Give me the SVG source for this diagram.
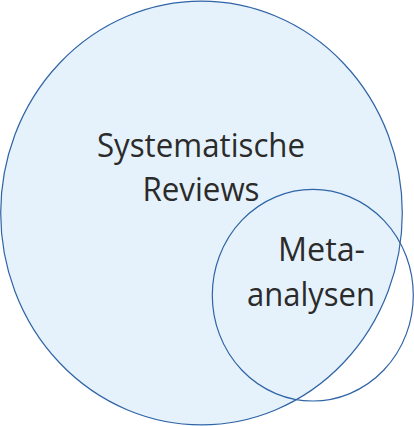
<svg xmlns="http://www.w3.org/2000/svg" width="414" height="426" viewBox="0 0 414 426">
<style>
.c{stroke:#2f64a6;stroke-width:1.2}
.t{font-family:"Open Sans","Noto Sans",sans-serif;font-size:33px;fill:#2b2b2b}
</style>
<rect width="414" height="426" fill="#ffffff"/>
<g id="systematische-reviews">
<ellipse class="c" cx="201.5" cy="213" rx="200.8" ry="211.8" fill="#e5f2fb"/>
<text class="t" x="201" y="156.5" text-anchor="middle" textLength="208" lengthAdjust="spacingAndGlyphs">Systematische</text>
<text class="t" x="201" y="201" text-anchor="middle" textLength="117" lengthAdjust="spacingAndGlyphs">Reviews</text>
</g>
<g id="metaanalysen">
<ellipse class="c" cx="312.8" cy="295.2" rx="100.5" ry="105.8" fill="none"/>
<text class="t" x="278" y="260.5" textLength="87" lengthAdjust="spacingAndGlyphs">Meta-</text>
<text class="t" x="247" y="306" textLength="128" lengthAdjust="spacingAndGlyphs">analysen</text>
</g>
<g id="connectors"/>
</svg>
